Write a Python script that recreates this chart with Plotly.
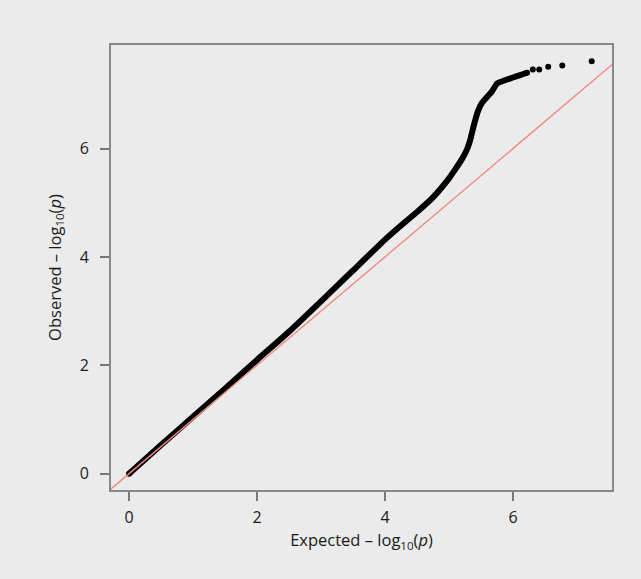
import plotly.graph_objects as go

# Dense band of QQ points (expected vs observed -log10 p)
expected_band = [0, 0.5, 1.0, 1.5, 2.0, 2.5, 3.0, 3.5, 4.0, 4.25, 4.5, 4.75, 5.0,
                 5.1, 5.2, 5.28, 5.33, 5.38, 5.45, 5.52, 5.6, 5.67, 5.75, 5.85,
                 5.95, 6.05, 6.15, 6.22]
observed_band = [0, 0.53, 1.05, 1.57, 2.1, 2.62, 3.18, 3.75, 4.32, 4.58, 4.83, 5.1,
                 5.45, 5.62, 5.8, 5.98, 6.15, 6.39, 6.68, 6.85, 6.96, 7.05, 7.2,
                 7.25, 7.29, 7.33, 7.37, 7.40]

# Sparse top points
expected_top = [6.31, 6.41, 6.55, 6.77, 7.23]
observed_top = [7.46, 7.46, 7.51, 7.53, 7.61]

tick_vals = [0, 2, 4, 6]
x_range = [-0.281, 7.547]
y_range = [-0.30, 7.91]

FONT = "Open Sans"
AX = "#888888"
TXT = "#1a1a1a"

fig = go.Figure()
fig.add_trace(go.Scatter(
    x=expected_band, y=observed_band, mode="lines",
    line=dict(color="black", width=6, shape="spline", smoothing=0.4),
    showlegend=False, hoverinfo="skip"))
# round ends of the band
fig.add_trace(go.Scatter(
    x=[expected_band[0], expected_band[-1]], y=[observed_band[0], observed_band[-1]],
    mode="markers", marker=dict(color="black", size=6),
    showlegend=False, hoverinfo="skip"))
fig.add_trace(go.Scatter(
    x=expected_top, y=observed_top, mode="markers",
    marker=dict(color="black", size=6),
    showlegend=False))
ref = [min(x_range[0], y_range[0]), max(x_range[1], y_range[1])]
fig.add_trace(go.Scatter(
    x=ref, y=ref, mode="lines",
    line=dict(color="#f08a84", width=1.4),
    showlegend=False, hoverinfo="skip"))

axis_common = dict(
    showgrid=False, zeroline=False, showline=True, linecolor=AX, linewidth=2,
    mirror=True, ticks="outside", ticklen=9, tickwidth=1.5, tickcolor="#777777",
    tickvals=tick_vals, tickfont=dict(family=FONT, size=16, color=TXT),
)

fig.update_layout(
    width=641, height=579,
    paper_bgcolor="#ebebeb", plot_bgcolor="#ebebeb",
    margin=dict(l=111, r=29, t=45, b=89),
    font=dict(family=FONT, size=15, color=TXT),
    xaxis=dict(range=x_range, title=dict(text="Expected – log<sub>10</sub>(<i>p</i>)",
               font=dict(family=FONT, size=16.5, color=TXT), standoff=0),
               ticklabelstandoff=3, **axis_common),
    yaxis=dict(range=y_range, title=dict(text="Observed – log<sub>10</sub>(<i>p</i>)",
               font=dict(family=FONT, size=16.5, color=TXT), standoff=14),
               ticklabelstandoff=8, **axis_common),
)

fig.write_html("out.html", config={"displayModeBar": False},
               post_script="document.body.style.margin='0';document.body.style.background='#ebebeb';")
